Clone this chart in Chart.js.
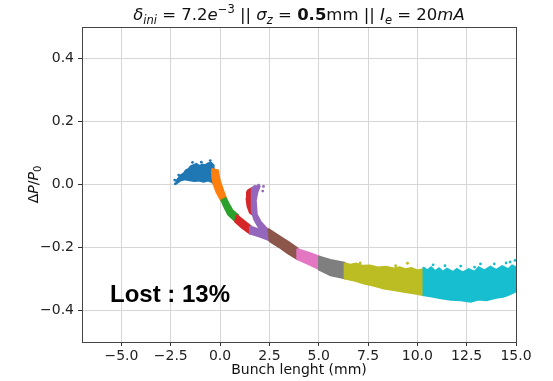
<!DOCTYPE html>
<html>
<head>
<meta charset="utf-8">
<script src="https://cdn.jsdelivr.net/npm/chart.js@4.4.1/dist/chart.umd.min.js"></script>
<style>
  html, body { margin: 0; background: #fff; }
  #wrap { width: 553px; height: 381px; }
</style>
</head>
<body>
<div id="wrap"><canvas id="chart" width="553" height="381"></canvas></div>
<script>
const X_TICKS = [-5, -2.5, 0, 2.5, 5, 7.5, 10, 12.5, 15];
const Y_TICKS = [-0.4, -0.2, 0, 0.2, 0.4];
const X_RANGE = [-7, 15];
const Y_RANGE = [-0.5, 0.5];

// outlines of each slice of the bunch as [x, y]
const blueOutline = [
  [-2.25, 0.01], [-2.1, 0.022], [-2.0, 0.03], [-1.85, 0.036], [-1.75, 0.045], [-1.6, 0.05],
  [-1.5, 0.058], [-1.35, 0.062], [-1.2, 0.066], [-1.05, 0.06], [-0.9, 0.064], [-0.75, 0.062],
  [-0.6, 0.068], [-0.45, 0.07], [-0.32, 0.062], [-0.3, 0.035], [-0.33, 0.002], [-0.45, 0.008],
  [-0.6, 0.012], [-0.85, 0.008], [-1.05, 0.012], [-1.3, 0.01], [-1.55, 0.013], [-1.8, 0.016],
  [-2.0, 0.012], [-2.2, 0.003]
];
const orangeOutline = [
  [-0.42, 0.05], [-0.1, 0.046], [-0.03, 0.02], [0.05, 0.002], [0.18, -0.021], [0.32, -0.044],
  [0.03, -0.05], [-0.2, -0.024], [-0.35, 0.002], [-0.41, 0.025]
];
const greenOutline = [
  [0.3, -0.042], [0.47, -0.063], [0.62, -0.08], [0.92, -0.097],
  [0.78, -0.118], [0.4, -0.096], [0.22, -0.074], [0.05, -0.05]
];
const redOutline = [
  [0.85, -0.096], [1.2, -0.114], [1.58, -0.133], [1.5, -0.156], [1.1, -0.138], [0.75, -0.118]
];
const redHookOutline = [
  [1.4, -0.018], [1.58, -0.012], [1.6, -0.05], [1.6, -0.085], [1.65, -0.097], [1.5, -0.09],
  [1.38, -0.07], [1.33, -0.045], [1.35, -0.025]
];
const purpleOutline = [
  [1.5, -0.132], [2.0, -0.143], [2.4, -0.146], [2.5, -0.178], [2.0, -0.166], [1.5, -0.156]
];
const purpleHookOutline = [
  [1.58, -0.012], [1.75, -0.004], [2.02, -0.006], [1.9, -0.025], [1.82, -0.05], [1.87, -0.095],
  [2.07, -0.118], [2.36, -0.138], [2.53, -0.15], [2.4, -0.16], [2.0, -0.142], [1.72, -0.112],
  [1.6, -0.085], [1.6, -0.05], [1.6, -0.025]
];
const brownOutline = [
  [2.44, -0.14], [3.0, -0.163], [3.5, -0.183], [3.95, -0.203],
  [3.9, -0.237], [3.4, -0.218], [3.0, -0.2], [2.5, -0.18]
];
const pinkOutline = [
  [3.9, -0.204], [4.5, -0.216], [5.06, -0.229], [5.06, -0.271], [4.5, -0.254], [3.9, -0.237]
];
const grayOutline = [
  [5.0, -0.228], [5.6, -0.239], [6.33, -0.248], [6.33, -0.299], [5.6, -0.289], [5.0, -0.271]
];
const oliveOutline = [
  [6.3, -0.249], [6.6, -0.254], [6.9, -0.25], [7.2, -0.257], [7.6, -0.256], [8.0, -0.263],
  [8.4, -0.26], [8.8, -0.266], [9.1, -0.262], [9.4, -0.268], [9.7, -0.264], [10.0, -0.272],
  [10.3, -0.268], [10.3, -0.352], [9.8, -0.346], [9.3, -0.341], [8.8, -0.336], [8.3, -0.331],
  [7.8, -0.322], [7.3, -0.315], [6.8, -0.306], [6.3, -0.299]
];
const cyanOutline = [
  [10.3, -0.262], [10.5, -0.272], [10.7, -0.262], [10.9, -0.274], [11.1, -0.265], [11.3, -0.276],
  [11.5, -0.266], [11.8, -0.277], [12.0, -0.267], [12.3, -0.278], [12.6, -0.268], [12.9, -0.276],
  [13.1, -0.262], [13.4, -0.272], [13.7, -0.26], [14.0, -0.27], [14.3, -0.258], [14.6, -0.268],
  [14.8, -0.256], [15.0, -0.262], [15.0, -0.34], [14.6, -0.352], [14.35, -0.357], [14.0, -0.36],
  [13.5, -0.368], [13.1, -0.366], [12.7, -0.373], [12.2, -0.368], [11.7, -0.367], [11.2, -0.362],
  [10.8, -0.357], [10.3, -0.352]
];

// stray particles just outside the dense bands
const blueStray = [[-2.3, 0.014], [-2.27, 0.002], [-2.1, 0.03], [-1.4, 0.07], [-0.95, 0.071], [-0.5, 0.076]];
const purpleStray = [[2.16, -0.021], [2.2, -0.006], [1.95, -0.002]];
const oliveStray = [[9.5, -0.25], [7.1, -0.249], [8.9, -0.258]];
const cyanStray = [
  [10.8, -0.255], [11.4, -0.258], [12.2, -0.259], [12.9, -0.262], [13.2, -0.252], [13.9, -0.252],
  [14.5, -0.249], [14.7, -0.246], [14.95, -0.241]
];

const SLICES = [
  { outline: blueOutline, color: '#1f77b4' },
  { outline: orangeOutline, color: '#ff7f0e' },
  { outline: greenOutline, color: '#2ca02c' },
  { outline: redOutline, color: '#d62728' },
  { outline: redHookOutline, color: '#d62728' },
  { outline: purpleOutline, color: '#9467bd' },
  { outline: purpleHookOutline, color: '#9467bd' },
  { outline: brownOutline, color: '#8c564b' },
  { outline: pinkOutline, color: '#e377c2' },
  { outline: grayOutline, color: '#7f7f7f' },
  { outline: oliveOutline, color: '#bcbd22' },
  { outline: cyanOutline, color: '#17becf' }
];
const STRAYS = [
  { points: blueStray, color: '#1f77b4' },
  { points: purpleStray, color: '#9467bd' },
  { points: oliveStray, color: '#bcbd22' },
  { points: cyanStray, color: '#17becf' }
];

const FONT = '"DejaVu Sans", sans-serif';
const toXY = ([x, y]) => ({ x, y });
const fmt = v => (v < 0 ? '\u2212' : '') + Math.abs(v).toFixed(1);

const datasets = [];
SLICES.forEach((s, i) => {
  datasets.push({
    type: 'line',
    data: [...s.outline, s.outline[0]].map(toXY),
    fill: 'shape',
    backgroundColor: s.color,
    borderColor: s.color,
    borderWidth: 1.5,
    pointRadius: 0,
    tension: 0,
    order: 100 - i
  });
});
STRAYS.forEach(s => {
  datasets.push({
    type: 'scatter',
    data: s.points.map(toXY),
    backgroundColor: s.color,
    borderWidth: 0,
    pointRadius: 1.4,
    order: 1
  });
});

// draws a run of text pieces with mixed fonts, centred on cx
function drawRich(ctx, parts, cx, baseline) {
  let total = 0;
  parts.forEach(p => { ctx.font = p.font; p.w = ctx.measureText(p.t).width; total += p.w; });
  let x = cx - total / 2;
  ctx.textAlign = 'left';
  ctx.textBaseline = 'alphabetic';
  parts.forEach(p => {
    ctx.font = p.font;
    ctx.fillText(p.t, x, baseline + (p.dy || 0));
    x += p.w;
  });
}

const textPlugin = {
  id: 'texts',
  afterDraw(chart) {
    const { ctx, chartArea: a, scales } = chart;
    ctx.save();
    ctx.strokeStyle = '#444';
    ctx.lineWidth = 1;
    ctx.strokeRect(Math.round(a.left) + 0.5, Math.round(a.top) + 0.5, Math.round(a.right - a.left), Math.round(a.bottom - a.top));
    ctx.fillStyle = '#111';

    const R = `16.5px ${FONT}`, I = `italic 16.5px ${FONT}`, B = `bold 16.5px ${FONT}`;
    const s = `italic 11.5px ${FONT}`, sr = `11.5px ${FONT}`;
    drawRich(ctx, [
      { t: '\u03b4', font: I }, { t: 'ini', font: s, dy: 4 },
      { t: ' = 7.2', font: R }, { t: 'e', font: I }, { t: '\u22123', font: sr, dy: -7 },
      { t: ' || ', font: R },
      { t: '\u03c3', font: I }, { t: 'z', font: s, dy: 4 }, { t: ' = ', font: R },
      { t: '0.5', font: B }, { t: 'mm || ', font: R },
      { t: 'I', font: I }, { t: 'e', font: s, dy: 4 }, { t: ' = 20', font: R }, { t: 'mA', font: I }
    ], (a.left + a.right) / 2, 20);

    ctx.font = `14px ${FONT}`;
    ctx.textAlign = 'center';
    ctx.textBaseline = 'alphabetic';
    ctx.fillText('Bunch lenght (mm)', (a.left + a.right) / 2, 374);

    ctx.save();
    ctx.translate(38, (a.top + a.bottom) / 2);
    ctx.rotate(-Math.PI / 2);
    drawRich(ctx, [
      { t: '\u0394', font: `14px ${FONT}` }, { t: 'P', font: `italic 14px ${FONT}` },
      { t: '/', font: `14px ${FONT}` }, { t: 'P', font: `italic 14px ${FONT}` },
      { t: '0', font: `10px ${FONT}`, dy: 3 }
    ], 0, 0);
    ctx.restore();

    ctx.font = 'bold 24px "Liberation Sans", Arial, sans-serif';
    ctx.textAlign = 'left';
    ctx.fillStyle = '#000';
    ctx.fillText('Lost : 13%', scales.x.getPixelForValue(-5.58), scales.y.getPixelForValue(-0.372));
    ctx.restore();
  }
};

new Chart(document.getElementById('chart'), {
  type: 'scatter',
  data: { datasets },
  options: {
    responsive: false,
    devicePixelRatio: 1,
    animation: false,
    layout: { padding: { left: 0, right: 37, top: 27, bottom: 0 } },
    plugins: { legend: { display: false }, tooltip: { enabled: false }, title: { display: false } },
    scales: {
      x: {
        type: 'linear',
        min: X_RANGE[0],
        max: X_RANGE[1],
        afterBuildTicks: axis => { axis.ticks = X_TICKS.map(value => ({ value })); },
        afterFit: axis => { axis.height = 39; },
        ticks: { callback: v => fmt(v), font: { family: FONT, size: 14 }, color: '#222', padding: 2, maxRotation: 0, autoSkip: false },
        grid: { color: '#d6d6d6', lineWidth: 1, tickColor: '#333', tickLength: 4 },
        border: { display: false }
      },
      y: {
        type: 'linear',
        min: Y_RANGE[0],
        max: Y_RANGE[1],
        afterBuildTicks: axis => { axis.ticks = Y_TICKS.map(value => ({ value })); },
        afterFit: axis => { axis.width = 82; },
        ticks: { callback: v => fmt(v), font: { family: FONT, size: 14 }, color: '#222', padding: 4 },
        grid: { color: '#d6d6d6', lineWidth: 1, tickColor: '#333', tickLength: 4 },
        border: { display: false }
      }
    }
  },
  plugins: [textPlugin]
});
</script>
</body>
</html>
